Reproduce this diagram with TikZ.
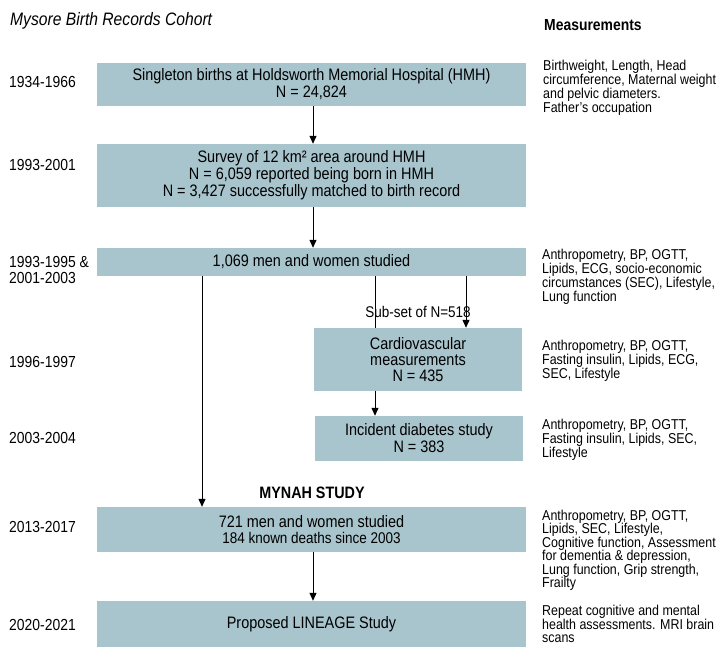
\documentclass[tikz,border=0pt]{standalone}
\usepackage{fontspec}
\setmainfont[FakeStretch=0.87]{Liberation Sans}
\usetikzlibrary{arrows.meta}
\definecolor{boxfill}{RGB}{168,196,204}
\begin{document}
\begin{tikzpicture}[x=1pt,y=-1pt,
  box/.style={fill=boxfill, draw=none, inner sep=0pt, align=center, font=\fontsize{16.6}{17}\selectfont},
  arr/.style={-{Triangle[length=8pt,width=7pt]}, line width=1pt},
  plainline/.style={line width=1pt},
  meas/.style={anchor=north west, align=left, inner sep=0pt, font=\fontsize{14.3}{13.9}\selectfont},
  yr/.style={anchor=west, inner sep=0pt, align=left, font=\fontsize{16}{15.5}\selectfont}]
\useasboundingbox (0,0) rectangle (720,671);
% title and header
\node[anchor=base west, inner sep=0pt, font=\fontsize{18}{18}\selectfont\itshape] (title) at (10,26) {Mysore Birth Records Cohort};
\node[anchor=base west, inner sep=0pt, font=\fontsize{16}{16}\selectfont\bfseries] (mhead) at (544,31) {Measurements};
% boxes
\node[box, minimum width=429pt, minimum height=43pt] (b1) at (311.5,84.5) {Singleton births at Holdsworth Memorial Hospital (HMH)\\N = 24,824};
\node[box, minimum width=429pt, minimum height=63pt] (b2) at (311.5,175.5) {Survey of 12 km² area around HMH\\N = 6,059 reported being born in HMH\\N = 3,427 successfully matched to birth record};
\node[box, minimum width=429pt, minimum height=28pt] (b3) at (311.5,262) {1,069 men and women studied};
\node[box, minimum width=208pt, minimum height=63pt, font=\fontsize{16.6}{16}\selectfont] (cv) at (418,359.5) {Cardiovascular\\measurements\\N = 435};
\node[box, minimum width=208pt, minimum height=45pt] (db) at (419,438.5) {Incident diabetes study\\N = 383};
\node[box, minimum width=429pt, minimum height=45pt] (my) at (311.5,529.5) {721 men and women studied\\[-1pt]{\fontsize{15.5}{14}\selectfont 184 known deaths since 2003}};
\node[box, minimum width=429pt, minimum height=46pt] (ln) at (311.5,624) {Proposed LINEAGE Study};
\node[inner sep=0pt, font=\fontsize{16.5}{16}\selectfont\bfseries] (mynah) at (312,493) {MYNAH STUDY};
% years
\node[yr] (y1) at (9,82) {1934-1966};
\node[yr] (y2) at (9,165) {1993-2001};
\node[yr] (y3) at (9,270) {1993-1995 \&\\2001-2003};
\node[yr] (y4) at (9,362) {1996-1997};
\node[yr] (y5) at (9,438) {2003-2004};
\node[yr] (y6) at (9,527) {2013-2017};
\node[yr] (y7) at (9,625) {2020-2021};
% measurements
\node[meas] (m1) at (543,60) {Birthweight, Length, Head\\circumference, Maternal weight\\and pelvic diameters.\\Father's occupation};
\node[meas] (m3) at (542,249) {Anthropometry, BP, OGTT,\\Lipids, ECG, socio-economic\\circumstances (SEC), Lifestyle,\\Lung function};
\node[meas] (m4) at (542,340) {Anthropometry, BP, OGTT,\\Fasting insulin, Lipids, ECG,\\SEC, Lifestyle};
\node[meas] (m5) at (542,419) {Anthropometry, BP, OGTT,\\Fasting insulin, Lipids, SEC,\\Lifestyle};
\node[meas, font=\fontsize{14.3}{13.4}\selectfont] (m6) at (542,510) {Anthropometry, BP, OGTT,\\Lipids, SEC, Lifestyle,\\Cognitive function, Assessment\\for dementia \& depression,\\Lung function, Grip strength,\\Frailty};
\node[meas, font=\fontsize{14.3}{13.5}\selectfont] (m7) at (542,605) {Repeat cognitive and mental\\health assessments. MRI brain\\scans};
% connector columns
\coordinate (ax) at (313,0);
\coordinate (lx) at (202,0);
\coordinate (c1) at (375,0);
\coordinate (c2) at (466,0);
% connectors
\draw[arr] (b1.south -| ax) -- (b2.north -| ax);
\draw[arr] (b2.south -| ax) -- (b3.north -| ax);
\draw[arr] (b3.south -| lx) -- (my.north -| lx);
\draw[plainline] (b3.south -| c1) -- (cv.north -| c1);
\draw[arr] (b3.south -| c2) -- (cv.north -| c2);
\draw[arr] (cv.south -| c1) -- (db.north -| c1);
\draw[arr] (my.south -| ax) -- (ln.north -| ax);
\node[inner sep=0pt, font=\fontsize{15.5}{15}\selectfont] (sub) at (418,312) {Sub-set of N=518};
\end{tikzpicture}
\end{document}
